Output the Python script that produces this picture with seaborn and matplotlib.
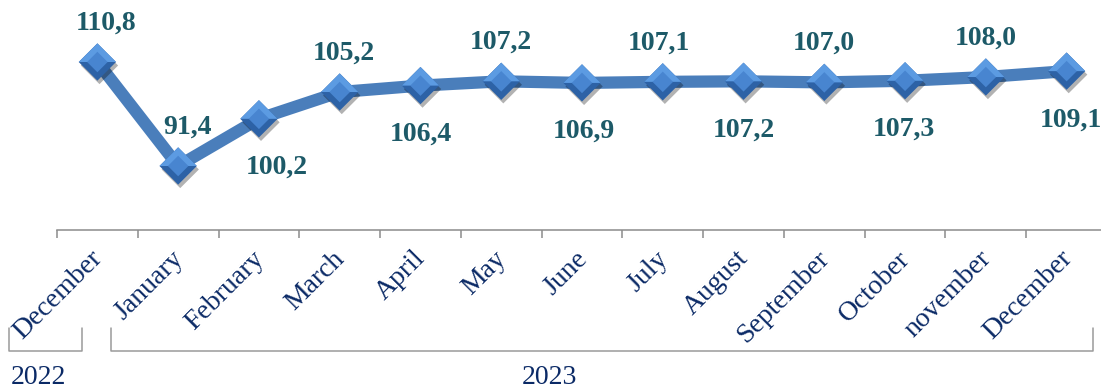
import numpy as np
import matplotlib
matplotlib.use("Agg")
import matplotlib.pyplot as plt
import matplotlib.patheffects as pe
from matplotlib.lines import Line2D
from matplotlib.transforms import ScaledTranslation
import seaborn as sns

# Monthly index, previous month = 100
months = ["December", "January", "February", "March", "April", "May", "June",
          "July", "August", "September", "October", "november", "December"]
index_values = [110.8, 91.4, 100.2, 105.2, 106.4, 107.2, 106.9,
                107.1, 107.2, 107.0, 107.3, 108.0, 109.1]
years = ["2022", "2023"]

# label placement: above / below the marker, plus a small horizontal nudge (points)
label_above = [True, True, False, True, False, True, False,
               True, False, True, False, True, False]
label_dx = [6, 7, 13, 3, 0, 0, 1, -3, 0, 0, -1, 0, 3]

LINE_BLUE = "#4A7EBB"
LABEL_TEAL = "#1D5A68"
NAVY = "#0B2A66"
AXIS_GREY = "#8C8C8C"

sns.set_theme(style="white")
plt.rcParams["font.family"] = ["Liberation Serif", "DejaVu Serif"]

W, H = 1101, 392
fig = plt.figure(figsize=(W / 100, H / 100), dpi=100)
ax = fig.add_axes([57 / W, 162 / H, 1050 / W, 230 / H])
ax.set_facecolor("none")

x = np.arange(len(months))

# thick connecting line
sns.lineplot(x=x, y=index_values, ax=ax, color=LINE_BLUE, linewidth=8.8,
             solid_capstyle="butt", zorder=2)

# bevelled diamond markers: dark base with shadow, light upper facet, mid-tone centre
ms = 19
shadow = [pe.SimplePatchShadow(offset=(1.5, -2.5), shadow_rgbFace="black", alpha=0.3),
          pe.Normal()]
sns.scatterplot(x=x, y=index_values, ax=ax, marker="D", s=ms ** 2,
                color="#2D62A6", edgecolor="none", linewidth=0, zorder=3,
                path_effects=shadow)
sns.scatterplot(x=x, y=index_values, ax=ax, marker=[(-1, 0), (0, 1), (1, 0)],
                s=(1.414 * ms) ** 2, color="#5C9BE2", edgecolor="none",
                linewidth=0, zorder=4)
sns.scatterplot(x=x, y=index_values, ax=ax, marker="D", s=(0.55 * ms) ** 2,
                color="#4885D0", edgecolor="none", linewidth=0, zorder=5)

# value labels
for xi, v, up, dx in zip(x, index_values, label_above, label_dx):
    ax.annotate(f"{v:.1f}".replace(".", ","), (xi, v),
                xytext=(dx, 28 if up else -35), textcoords="offset points",
                ha="center", va="center", fontsize=20, fontweight="bold",
                color=LABEL_TEAL, zorder=6)

ax.set_xlim(-0.5, len(months) - 0.5)
ax.set_ylim(79.46, 122.37)
ax.set_yticks([])
ax.set_xlabel("")
ax.set_ylabel("")

# tick marks on category boundaries, month names centred under each point
ax.set_xticks(np.arange(len(months) + 1) - 0.5)
ax.set_xticklabels([])
ax.set_xticks(x, minor=True)
ax.set_xticklabels(months, minor=True, rotation=45, ha="right", va="center",
                   rotation_mode="anchor", fontsize=20, color=NAVY)
ax.tick_params(axis="x", which="major", bottom=True, length=5.5, width=1.1,
               color=AXIS_GREY, direction="out")
ax.tick_params(axis="x", which="minor", bottom=True, length=0, pad=18)
for lab in ax.get_xticklabels(minor=True):
    lab.set_transform(lab.get_transform() + ScaledTranslation(1 / 72, 0, fig.dpi_scale_trans))

for side in ["left", "right", "top"]:
    ax.spines[side].set_visible(False)
ax.spines["bottom"].set_color(AXIS_GREY)
ax.spines["bottom"].set_linewidth(1.1)

# year brackets under the month names
def bracket(x0, x1, y_top, y_bot):
    fig.add_artist(Line2D([x0 / W, x0 / W, x1 / W, x1 / W],
                          [1 - y_top / H, 1 - y_bot / H, 1 - y_bot / H, 1 - y_top / H],
                          transform=fig.transFigure, color="#9A9A9A", linewidth=1.1))

bracket(9, 82, 328, 351)
bracket(111, 1093, 328, 351)
fig.text(38 / W, 1 - 378 / H, years[0], ha="center", va="center", fontsize=20, color=NAVY)
fig.text(549 / W, 1 - 378 / H, years[1], ha="center", va="center", fontsize=20, color=NAVY)

fig.savefig("out.png", dpi=100)
